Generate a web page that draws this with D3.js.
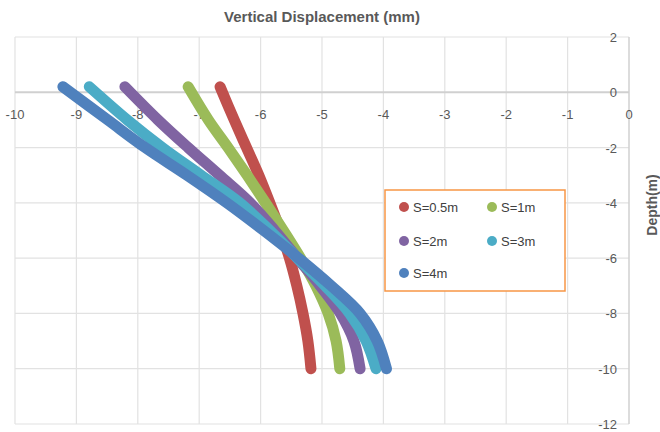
<!DOCTYPE html>
<html>
<head>
<meta charset="utf-8">
<script src="https://cdn.jsdelivr.net/npm/d3@7"></script>
<style>
  body { margin: 0; background: #fff; }
  text { font-family: "Liberation Sans", Arial, sans-serif; fill: #595959; }
</style>
</head>
<body>
<svg width="660" height="432"></svg>
<script>
// depth (m) shared by all series
const depths = [0.2, -1, -2, -3, -4, -5, -6, -7, -8, -9, -10];

// vertical displacement (mm) per spacing
const s05 = [-6.66, -6.43, -6.23, -6.03, -5.85, -5.68, -5.53, -5.41, -5.31, -5.23, -5.18];
const s1  = [-7.18, -6.85, -6.53, -6.22, -5.92, -5.63, -5.35, -5.10, -4.90, -4.77, -4.71];
const s2  = [-8.21, -7.67, -7.18, -6.67, -6.17, -5.77, -5.40, -5.03, -4.70, -4.48, -4.38];
const s3  = [-8.79, -8.17, -7.60, -6.97, -6.34, -5.85, -5.40, -4.95, -4.55, -4.28, -4.12];
const s4  = [-9.22, -8.49, -7.88, -7.20, -6.55, -5.95, -5.38, -4.85, -4.38, -4.10, -3.95];

const seriesNames = ["S=0.5m", "S=1m", "S=2m", "S=3m", "S=4m"];
const seriesColors = ["#c0504d", "#9bbb59", "#8064a2", "#4bacc6", "#4f81bd"];
const seriesValues = [s05, s1, s2, s3, s4];

const xTicks = d3.range(-10, 1, 1);
const yTicks = d3.range(2, -13, -2);

var svg = d3.select("svg");

var x = d3.scaleLinear().domain([-10, 0]).range([15, 629]);
var y = d3.scaleLinear().domain([2, -12]).range([37, 424]);

// gridlines
svg.append("g").selectAll("line")
  .data(xTicks.filter(d => d !== 0))
  .enter().append("line")
    .attr("x1", d => x(d)).attr("x2", d => x(d))
    .attr("y1", y(2)).attr("y2", y(-12))
    .attr("stroke", "#e2e2e2").attr("stroke-width", 1.2);

svg.append("g").selectAll("line")
  .data(yTicks.filter(d => d !== 0))
  .enter().append("line")
    .attr("x1", x(-10)).attr("x2", x(0))
    .attr("y1", d => y(d)).attr("y2", d => y(d))
    .attr("stroke", "#e2e2e2").attr("stroke-width", 1.2);

// axis lines (crossing at 0)
svg.append("line")
  .attr("x1", x(-10)).attr("x2", x(0))
  .attr("y1", y(0)).attr("y2", y(0))
  .attr("stroke", "#d0d0d0").attr("stroke-width", 2);
svg.append("line")
  .attr("x1", x(0)).attr("x2", x(0))
  .attr("y1", y(2)).attr("y2", y(-12))
  .attr("stroke", "#d0d0d0").attr("stroke-width", 1.5);

// tick labels
svg.append("g").selectAll("text")
  .data(xTicks)
  .enter().append("text")
    .attr("x", d => x(d))
    .attr("y", y(0) + 27)
    .attr("text-anchor", "middle")
    .attr("font-size", 13)
    .text(d => d);

svg.append("g").selectAll("text")
  .data(yTicks)
  .enter().append("text")
    .attr("x", x(0) - 12)
    .attr("y", d => y(d) + 5)
    .attr("text-anchor", "end")
    .attr("font-size", 13)
    .text(d => d);

// titles
svg.append("text")
  .attr("x", 322).attr("y", 22)
  .attr("text-anchor", "middle")
  .attr("font-size", 15)
  .attr("font-weight", "bold")
  .text("Vertical Displacement (mm)");

svg.append("text")
  .attr("transform", "translate(657,205) rotate(-90)")
  .attr("text-anchor", "middle")
  .attr("font-size", 14)
  .attr("font-weight", "bold")
  .text("Depth(m)");

// series
var line = d3.line()
  .x(d => x(d[0]))
  .y(d => y(d[1]))
  .curve(d3.curveCatmullRom.alpha(0.5));

seriesValues.forEach((vals, i) => {
  var pts = vals.map((v, j) => [v, depths[j]]);
  svg.append("path")
    .datum(pts)
    .attr("d", line)
    .attr("fill", "none")
    .attr("stroke", seriesColors[i])
    .attr("stroke-width", 11)
    .attr("stroke-linecap", "round")
    .attr("stroke-linejoin", "round");
});

// legend
var legend = svg.append("g");
legend.append("rect")
  .attr("x", 385).attr("y", 190)
  .attr("width", 180).attr("height", 101)
  .attr("fill", "#fff")
  .attr("stroke", "#f79646").attr("stroke-width", 1.5);

var legendPos = [[404, 207], [492, 207], [404, 241], [492, 241], [404, 273]];
seriesNames.forEach((name, i) => {
  legend.append("circle")
    .attr("cx", legendPos[i][0]).attr("cy", legendPos[i][1])
    .attr("r", 5)
    .attr("fill", seriesColors[i]);
  legend.append("text")
    .attr("x", legendPos[i][0] + 9)
    .attr("y", legendPos[i][1] + 5)
    .attr("font-size", 13)
    .style("fill", "#404040")
    .text(name);
});
</script>
</body>
</html>
